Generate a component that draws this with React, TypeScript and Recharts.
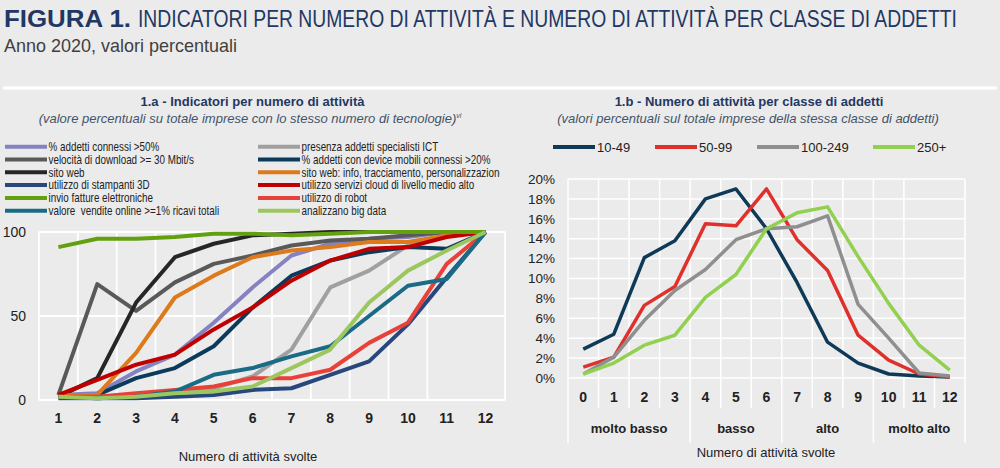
import React from 'react';
import { LineChart, Line, XAxis, YAxis, CartesianGrid } from 'recharts';

const SANS = "'Liberation Sans', Arial, Helvetica, sans-serif";
const BG = '#ebebeb';
const NAVY = '#1f3864';
const SUBCOL = '#44546a';

// ---------- 1.a data ----------
const activityCounts = [1, 2, 3, 4, 5, 6, 7, 8, 9, 10, 11, 12];
const connessi50 = [3, 4, 17, 27, 46, 67, 86, 93, 96, 97, 100, 100];
const specialistiICT = [2, 1, 2, 4, 7, 14, 30, 67, 77, 92, 98, 100];
const download30 = [3, 69, 53, 70, 81, 86, 92, 95, 96, 98, 100, 100];
const deviceMobili = [3, 3, 13, 19, 32, 55, 74, 83, 88, 91, 90, 100];
const sitoWeb = [2, 13, 58, 85, 93, 98, 99, 100, 100, 100, 100, 100];
const sitoWebInfo = [3, 3, 28, 61, 74, 85, 89, 91, 94, 94, 98, 100];
const stampanti3D = [1, 1, 1, 2, 3, 6, 7, 15, 23, 45, 73, 100];
const cloudMedioAlto = [3, 12, 21, 27, 42, 55, 71, 83, 90, 91, 97, 100];
const fattureElettroniche = [91, 96, 96, 97, 99, 99, 98, 99, 100, 100, 100, 100];
const robot = [2, 2, 4, 6, 8, 13, 13, 18, 34, 46, 81, 100];
const venditeOnline = [2, 1, 2, 5, 15, 19, 26, 32, 50, 68, 72, 100];
const bigData = [2, 1, 2, 4, 5, 8, 19, 30, 58, 77, 89, 100];
const leftYTicks = [0, 50, 100];

const indicators = [
  { key: 'connessi50', name: '% addetti connessi >50%', color: '#8582c1', values: connessi50 },
  { key: 'ict', name: 'presenza addetti specialisti ICT', color: '#a0a0a0', values: specialistiICT },
  { key: 'download', name: 'velocità di download >= 30 Mbit/s', color: '#595959', values: download30 },
  { key: 'device', name: '% addetti con device mobili connessi >20%', color: '#0c3a5a', values: deviceMobili },
  { key: 'sitoWeb', name: 'sito web', color: '#262626', values: sitoWeb },
  { key: 'sitoInfo', name: 'sito web: info, tracciamento, personalizzazione', color: '#dd7a1c', values: sitoWebInfo },
  { key: 'stampanti', name: 'utilizzo di stampanti 3D', color: '#27477d', values: stampanti3D },
  { key: 'cloud', name: 'utilizzo servizi cloud di livello medio alto', color: '#c00000', values: cloudMedioAlto },
  { key: 'fatture', name: 'invio fatture elettroniche', color: '#63a00f', values: fattureElettroniche },
  { key: 'robot', name: 'utilizzo di robot', color: '#e8413a', values: robot },
  { key: 'vendite', name: 'valore  vendite online >=1% ricavi totali', color: '#1a6b85', values: venditeOnline },
  { key: 'bigData', name: 'analizzano big data', color: '#9cc75f', values: bigData },
];

const leftData = activityCounts.map((x, i) => {
  const row: any = { x };
  indicators.forEach((s) => (row[s.key] = s.values[i]));
  return row;
});
const leftGridTicks = [0.5, ...activityCounts.map((v) => v + 0.5)];

// ---------- 1.b data ----------
const numActivities = [0, 1, 2, 3, 4, 5, 6, 7, 8, 9, 10, 11, 12];
const cls10_49 = [2.9, 4.4, 12.1, 13.8, 18.0, 19.0, 15.0, 9.6, 3.6, 1.5, 0.4, 0.2, 0.1];
const cls50_99 = [1.1, 2.1, 7.3, 9.2, 15.5, 15.3, 19.0, 13.9, 10.8, 4.3, 1.8, 0.4, 0.1];
const cls100_249 = [0.4, 2.1, 5.8, 8.8, 10.9, 13.9, 15.0, 15.2, 16.3, 7.4, 4.0, 0.5, 0.2];
const cls250 = [0.4, 1.5, 3.3, 4.3, 8.1, 10.4, 15.0, 16.6, 17.2, 12.2, 7.5, 3.3, 0.8];
const rightYTicks = [0, 2, 4, 6, 8, 10, 12, 14, 16, 18, 20];
const classGroups = [
  { label: 'molto basso', from: 0, to: 3 },
  { label: 'basso', from: 4, to: 6 },
  { label: 'alto', from: 7, to: 9 },
  { label: 'molto alto', from: 10, to: 12 },
];

const classes = [
  { key: 'c1', name: '10-49', color: '#0e3a58', values: cls10_49 },
  { key: 'c2', name: '50-99', color: '#e0302b', values: cls50_99 },
  { key: 'c3', name: '100-249', color: '#8f8f8f', values: cls100_249 },
  { key: 'c4', name: '250+', color: '#92d050', values: cls250 },
];

const rightData = numActivities.map((x, i) => {
  const row: any = { x };
  classes.forEach((s) => (row[s.key] = s.values[i]));
  return row;
});
const rightGridTicks = [-0.5, ...numActivities.map((v) => v + 0.5)];

// layout for right chart
const R_W = 490;
const R_YAXIS_W = 58;
const R_MARGIN_RIGHT = 35;
const R_BAND = (R_W - R_YAXIS_W - R_MARGIN_RIGHT) / numActivities.length;

const RightTick = (props: any) => {
  const { x, y, payload } = props;
  const v = payload.value as number;
  const half = R_BAND / 2;
  const grp = classGroups.find((g) => g.from === v);
  const isLast = v === numActivities[numActivities.length - 1];
  return (
    <g>
      <line x1={x - half} x2={x - half} y1={y} y2={y + (grp ? 65 : 30)} stroke="#ffffff" strokeWidth={1.5} />
      {isLast && <line x1={x + half} x2={x + half} y1={y} y2={y + 65} stroke="#ffffff" strokeWidth={1.5} />}
      <text x={x} y={y + 24} textAnchor="middle" fontFamily={SANS} fontWeight={700} fontSize={14} fill="#222">
        {v}
      </text>
      {grp && (
        <text
          x={x + ((grp.to - grp.from) / 2) * R_BAND}
          y={y + 55}
          textAnchor="middle"
          fontFamily={SANS}
          fontWeight={700}
          fontSize={13}
          fill="#222"
        >
          {grp.label}
        </text>
      )}
    </g>
  );
};

const LEG_ROW0 = 146.7;
const LEG_ROW_STEP = 12.8;
const TITLE_SCALE = 0.7;

export default function App() {
  return (
    <div style={{ position: 'absolute', left: 0, top: 0, width: 1000, height: 468, background: BG, overflow: 'hidden' }}>
      <svg width={1000} height={468} style={{ position: 'absolute', left: 0, top: 0 }}>
        <text x={4} y={27} fontFamily={SANS} fontWeight={700} fontSize={24} fill={NAVY} textLength={127} lengthAdjust="spacingAndGlyphs">
          FIGURA 1.
        </text>
        <text
          transform={`translate(138,27) scale(${TITLE_SCALE},1)`}
          fontFamily={SANS}
          fontSize={24}
          fill={NAVY}
          textLength={819 / TITLE_SCALE}
          lengthAdjust="spacingAndGlyphs"
        >
          INDICATORI PER NUMERO DI ATTIVITÀ E NUMERO DI ATTIVITÀ PER CLASSE DI ADDETTI
        </text>
        <text x={4} y={52} fontFamily={SANS} fontSize={19} fill="#404040" textLength={233} lengthAdjust="spacingAndGlyphs">
          Anno 2020, valori percentuali
        </text>
        <rect x={3} y={86.5} width={994} height={3} fill="#ffffff" />

        {/* 1.a titles */}
        <text x={252.5} y={106} textAnchor="middle" fontFamily={SANS} fontWeight={700} fontSize={13} fill={NAVY}>
          1.a - Indicatori per numero di attività
        </text>
        <text x={250} y={123} textAnchor="middle" fontFamily={SANS} fontStyle="italic" fontSize={13} fill={SUBCOL}>
          (valore percentuali su totale imprese con lo stesso numero di tecnologie)
          <tspan fontSize={7} dy={-5}>vi</tspan>
        </text>

        {/* 1.a legend */}
        <svg x={0} y={0} width={500} height={468}>
          {indicators.map((s, i) => {
            const col = i % 2;
            const row = Math.floor(i / 2);
            const cy = LEG_ROW0 + row * LEG_ROW_STEP;
            const x0 = col === 0 ? 5 : 258;
            return (
              <g key={s.key}>
                <line x1={x0} x2={x0 + 42} y1={cy} y2={cy} stroke={s.color} strokeWidth={4} />
                <text
                  transform={`translate(${x0 + 43.5},${cy + 4.3}) scale(0.82,1)`}
                  fontFamily={SANS}
                  fontSize={12}
                  fill="#222"
                  style={{ whiteSpace: 'pre' }}
                >
                  {s.name}
                </text>
              </g>
            );
          })}
        </svg>
        <text x={248} y={461} textAnchor="middle" fontFamily={SANS} fontSize={13} fill="#222">
          Numero di attività svolte
        </text>

        {/* 1.b titles */}
        <text x={749} y={106} textAnchor="middle" fontFamily={SANS} fontWeight={700} fontSize={13} fill={NAVY}>
          1.b - Numero di attività per classe di addetti
        </text>
        <text x={748} y={123} textAnchor="middle" fontFamily={SANS} fontStyle="italic" fontSize={13} fill={SUBCOL}>
          (valori percentuali sul totale imprese della stessa classe di addetti)
        </text>
        {/* 1.b legend */}
        {classes.map((s, i) => {
          const starts = [553, 655, 757, 873];
          const x0 = starts[i];
          return (
            <g key={s.key}>
              <line x1={x0} x2={x0 + 42} y1={147} y2={147} stroke={s.color} strokeWidth={4} />
              <text x={x0 + 44} y={151.5} fontFamily={SANS} fontSize={13} fill="#222">
                {s.name}
              </text>
            </g>
          );
        })}
        <text x={766} y={457} textAnchor="middle" fontFamily={SANS} fontSize={13} fill="#222">
          Numero di attività svolte
        </text>
      </svg>

      <div style={{ position: 'absolute', left: 0, top: 0 }}>
        <LineChart width={510} height={468} data={leftData} margin={{ top: 232, right: 5, bottom: 0, left: 0 }}>
          <XAxis xAxisId="grid" type="number" dataKey="x" domain={[0.5, 12.5]} ticks={leftGridTicks} allowDataOverflow hide />
          <CartesianGrid xAxisId="grid" stroke="#ffffff" strokeWidth={1.8} />
          <XAxis
            type="number"
            dataKey="x"
            domain={[0.5, 12.5]}
            ticks={activityCounts}
            interval={0}
            allowDataOverflow
            height={68}
            axisLine={false}
            tickLine={false}
            tickSize={0}
            tickMargin={13}
            tick={{ fill: '#222', fontSize: 14, fontWeight: 700, fontFamily: SANS }}
          />
          <YAxis
            domain={[0, 100]}
            ticks={leftYTicks}
            interval={0}
            width={39}
            axisLine={false}
            tickLine={false}
            tickSize={0}
            tickMargin={13}
            tick={{ fill: '#222', fontSize: 14, fontFamily: SANS }}
          />
          {indicators.map((s) => (
            <Line
              key={s.key}
              type="linear"
              dataKey={s.key}
              stroke={s.color}
              strokeWidth={4}
              strokeLinejoin="round"
              dot={false}
              activeDot={false}
              isAnimationActive={false}
            />
          ))}
        </LineChart>
      </div>

      <div style={{ position: 'absolute', left: 510, top: 0 }}>
        <LineChart width={R_W} height={468} data={rightData} margin={{ top: 179, right: R_MARGIN_RIGHT, bottom: 0, left: 0 }}>
          <XAxis xAxisId="grid" type="number" dataKey="x" domain={[-0.5, 12.5]} ticks={rightGridTicks} allowDataOverflow hide />
          <CartesianGrid xAxisId="grid" stroke="#ffffff" strokeWidth={1.5} />
          <XAxis
            type="number"
            dataKey="x"
            domain={[-0.5, 12.5]}
            ticks={numActivities}
            interval={0}
            allowDataOverflow
            height={90}
            axisLine={false}
            tickLine={false}
            tickSize={0}
            tickMargin={0}
            tick={<RightTick />}
          />
          <YAxis
            domain={[0, 20]}
            ticks={rightYTicks}
            interval={0}
            width={R_YAXIS_W}
            axisLine={false}
            tickLine={false}
            tickSize={0}
            tickMargin={13}
            tickFormatter={(v: number) => `${v}%`}
            tick={{ fill: '#222', fontSize: 13.5, fontFamily: SANS }}
          />
          {classes.map((s) => (
            <Line
              key={s.key}
              type="linear"
              dataKey={s.key}
              stroke={s.color}
              strokeWidth={3.5}
              strokeLinejoin="round"
              dot={false}
              activeDot={false}
              isAnimationActive={false}
            />
          ))}
        </LineChart>
      </div>
    </div>
  );
}
